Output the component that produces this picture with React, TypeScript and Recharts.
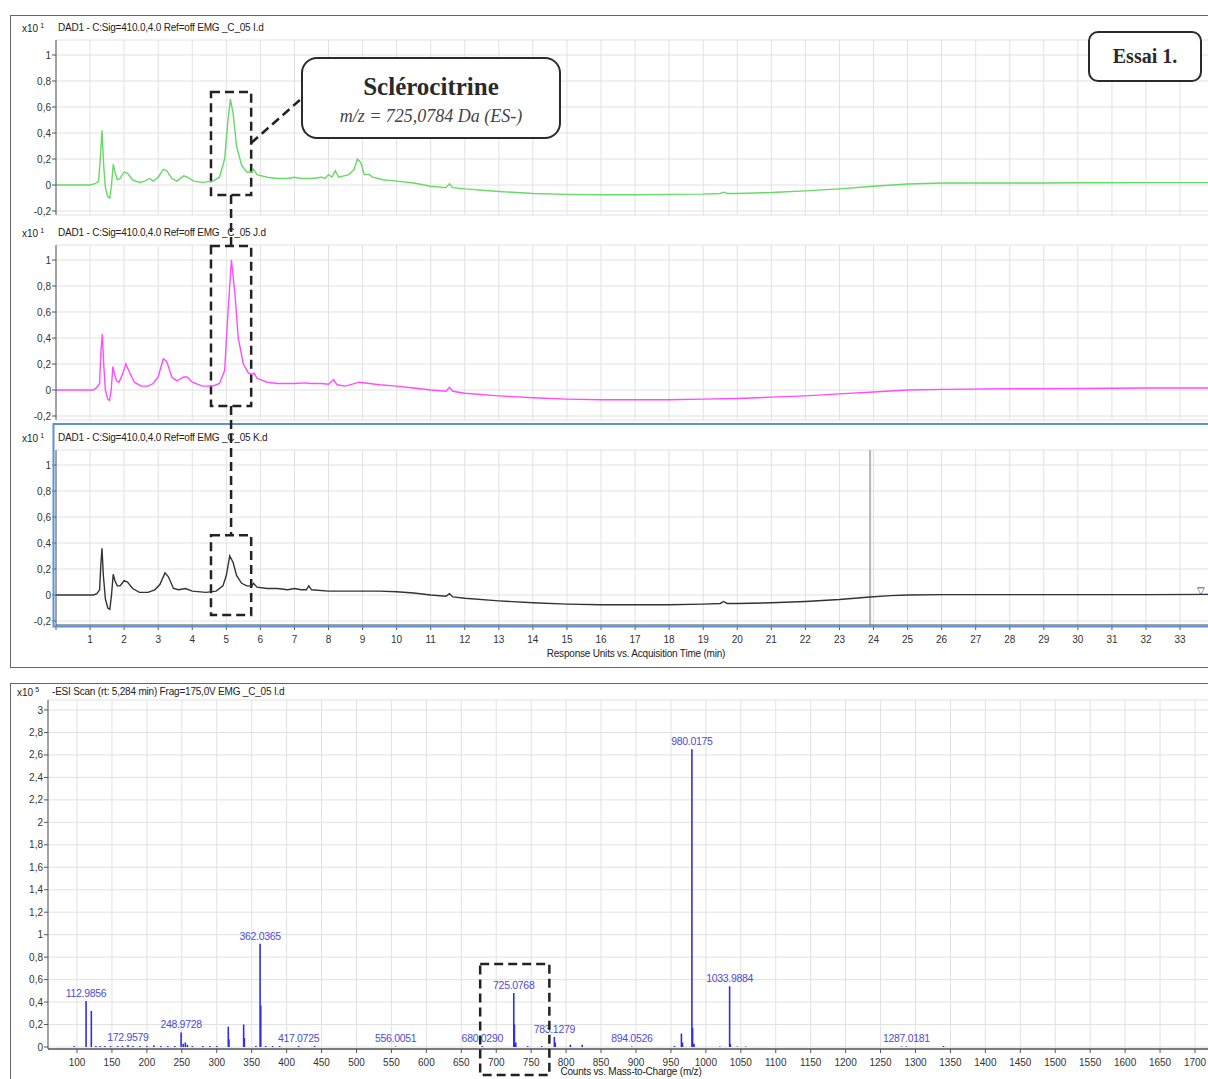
import React from 'react';
import { LineChart, Line, XAxis, YAxis, CartesianGrid, ReferenceArea, ReferenceLine } from 'recharts';

// ---------- DATA ----------
const timeTicks = [0, 1, 2, 3, 4, 5, 6, 7, 8, 9, 10, 11, 12, 13, 14, 15, 16, 17, 18, 19, 20, 21, 22, 23, 24, 25, 26, 27, 28, 29, 30, 31, 32, 33, 34];
const chromYTicks = [-0.2, 0, 0.2, 0.4, 0.6, 0.8, 1];
const msXTicks = [100, 150, 200, 250, 300, 350, 400, 450, 500, 550, 600, 650, 700, 750, 800, 850, 900, 950, 1000, 1050, 1100, 1150, 1200, 1250, 1300, 1350, 1400, 1450, 1500, 1550, 1600, 1650, 1700];
const msYTicks = [0, 0.2, 0.4, 0.6, 0.8, 1, 1.2, 1.4, 1.6, 1.8, 2, 2.2, 2.4, 2.6, 2.8, 3];

const headers = [
  'DAD1 - C:Sig=410.0,4.0  Ref=off EMG _C_05 I.d',
  'DAD1 - C:Sig=410.0,4.0  Ref=off EMG _C_05 J.d',
  'DAD1 - C:Sig=410.0,4.0  Ref=off EMG _C_05 K.d',
];
const msHeader = '-ESI Scan (rt: 5,284 min) Frag=175,0V EMG _C_05 I.d';

// chromatogram 1 (green) [time min, response x10^1]
const greenTrace: [number, number][] = [
  [0, 0], [0.5, 0], [1.0, 0], [1.15, 0.01], [1.25, 0.03], [1.3, 0.2], [1.35, 0.42], [1.4, 0.15], [1.45, -0.02],
  [1.52, -0.09], [1.58, -0.1], [1.63, 0.0], [1.68, 0.16], [1.73, 0.1], [1.8, 0.04], [1.88, 0.05], [2.0, 0.1],
  [2.1, 0.09], [2.25, 0.04], [2.45, 0.02], [2.6, 0.03], [2.75, 0.05], [2.85, 0.03], [3.0, 0.06], [3.15, 0.12],
  [3.25, 0.11], [3.4, 0.05], [3.55, 0.03], [3.75, 0.07], [3.85, 0.06], [4.05, 0.03], [4.3, 0.02], [4.6, 0.03],
  [4.8, 0.06], [4.95, 0.2], [5.05, 0.5], [5.12, 0.66], [5.2, 0.55], [5.3, 0.3], [5.45, 0.15], [5.6, 0.1],
  [5.75, 0.1], [5.8, 0.12], [5.9, 0.08], [6.2, 0.06], [6.5, 0.05], [6.8, 0.05], [7.0, 0.06], [7.2, 0.05],
  [7.5, 0.05], [7.8, 0.06], [7.9, 0.05], [8.0, 0.08], [8.1, 0.06], [8.2, 0.11], [8.3, 0.06], [8.6, 0.08],
  [8.75, 0.12], [8.85, 0.2], [8.95, 0.17], [9.05, 0.08], [9.2, 0.08], [9.3, 0.06], [9.6, 0.04], [10.0, 0.03],
  [10.5, 0.015], [11.0, -0.01], [11.45, -0.02], [11.55, 0.01], [11.65, -0.02], [12.0, -0.03], [13, -0.05],
  [14, -0.065], [15, -0.072], [16, -0.075], [17, -0.075], [18, -0.072], [19, -0.07], [19.5, -0.065],
  [19.6, -0.055], [19.7, -0.065], [20, -0.065], [21, -0.058], [22, -0.045], [23, -0.03], [24, -0.01],
  [25, 0.008], [26, 0.015], [27, 0.015], [28, 0.015], [29, 0.015], [30, 0.017], [31, 0.017], [32, 0.018],
  [33, 0.018], [34, 0.018],
];

// chromatogram 2 (magenta)
const magentaTrace: [number, number][] = [
  [0, 0], [0.8, 0], [1.1, 0], [1.2, 0.02], [1.28, 0.05], [1.32, 0.3], [1.36, 0.43], [1.4, 0.2], [1.45, 0.0],
  [1.52, -0.07], [1.57, -0.08], [1.62, 0.0], [1.67, 0.18], [1.72, 0.12], [1.78, 0.07], [1.85, 0.06], [1.95, 0.12],
  [2.05, 0.2], [2.15, 0.14], [2.3, 0.06], [2.5, 0.03], [2.7, 0.03], [2.85, 0.05], [3.0, 0.1], [3.15, 0.24],
  [3.25, 0.22], [3.4, 0.1], [3.55, 0.07], [3.75, 0.1], [3.85, 0.1], [4.0, 0.06], [4.3, 0.03], [4.6, 0.03],
  [4.8, 0.05], [4.95, 0.15], [5.05, 0.6], [5.15, 1.0], [5.25, 0.75], [5.35, 0.4], [5.5, 0.2], [5.65, 0.13],
  [5.75, 0.12], [5.82, 0.13], [5.9, 0.09], [6.2, 0.06], [6.5, 0.05], [7.0, 0.05], [7.3, 0.055], [7.5, 0.05],
  [7.8, 0.05], [8.0, 0.045], [8.15, 0.08], [8.25, 0.04], [8.5, 0.03], [8.9, 0.06], [9.2, 0.05], [9.5, 0.04],
  [10, 0.03], [10.5, 0.015], [11, 0.0], [11.45, -0.01], [11.55, 0.02], [11.65, -0.01], [12, -0.025],
  [13, -0.045], [14, -0.06], [15, -0.07], [16, -0.075], [17, -0.075], [18, -0.075], [19, -0.07], [20, -0.065],
  [21, -0.055], [22, -0.045], [23, -0.03], [24, -0.015], [25, 0.0], [26, 0.005], [28, 0.01], [30, 0.012],
  [32, 0.015], [34, 0.015],
];

// chromatogram 3 (dark grey)
const greyTrace: [number, number][] = [
  [0, 0], [1.1, 0], [1.2, 0.01], [1.28, 0.04], [1.32, 0.25], [1.35, 0.36], [1.39, 0.15], [1.45, -0.03],
  [1.52, -0.1], [1.58, -0.11], [1.63, 0.0], [1.68, 0.16], [1.73, 0.11], [1.8, 0.07], [1.88, 0.07], [2.0, 0.11],
  [2.1, 0.1], [2.25, 0.05], [2.45, 0.02], [2.7, 0.02], [2.9, 0.04], [3.05, 0.08], [3.2, 0.17], [3.3, 0.14],
  [3.45, 0.05], [3.6, 0.04], [3.8, 0.05], [4.0, 0.03], [4.4, 0.02], [4.7, 0.03], [4.9, 0.07], [5.0, 0.15],
  [5.1, 0.3], [5.2, 0.25], [5.3, 0.15], [5.45, 0.09], [5.6, 0.07], [5.75, 0.07], [5.8, 0.09], [5.9, 0.06],
  [6.2, 0.05], [6.5, 0.05], [6.8, 0.04], [7.0, 0.05], [7.2, 0.04], [7.35, 0.04], [7.42, 0.07], [7.5, 0.04],
  [8, 0.03], [8.5, 0.03], [9, 0.03], [9.5, 0.03], [10, 0.025], [10.5, 0.015], [11, 0.0], [11.45, -0.01],
  [11.55, 0.01], [11.65, -0.015], [12, -0.025], [13, -0.045], [14, -0.06], [15, -0.07], [16, -0.075],
  [17, -0.075], [18, -0.075], [19, -0.07], [19.5, -0.065], [19.6, -0.05], [19.7, -0.065], [20, -0.065],
  [21, -0.06], [22, -0.05], [23, -0.035], [23.9, -0.015], [24.5, -0.005], [25, 0.0], [26, 0.003], [28, 0.003],
  [30, 0.003], [32, 0.003], [34, 0.005],
];

// mass spectrum peaks (m/z, counts x10^5)
const peakMz = [96, 112.9856, 120.5, 127, 133, 140, 148, 158, 165, 172.9579, 180, 190, 200, 210, 220, 230, 240,
  248.9728, 252, 255, 258, 265, 280, 290, 300, 316.5, 317.5, 338.5, 339.5, 356, 362.0365, 363, 370, 380, 390,
  417.0725, 440, 556.0051, 680.029, 725.0768, 726, 728, 745, 765, 783.1279, 784.5, 806, 823, 894.0526, 955,
  965, 966.5, 980.0175, 981, 983, 1020, 1033.9884, 1035, 1045, 1057, 1280, 1287.0181, 1340];
const peakIntensity = [0.01, 0.41, 0.32, 0.01, 0.01, 0.01, 0.01, 0.01, 0.01, 0.015, 0.01, 0.01, 0.01, 0.015, 0.01,
  0.01, 0.01, 0.13, 0.03, 0.04, 0.02, 0.01, 0.01, 0.01, 0.01, 0.18, 0.07, 0.2, 0.08, 0.01, 0.92, 0.37, 0.01, 0.01,
  0.01, 0.01, 0.01, 0.005, 0.01, 0.48, 0.2, 0.04, 0.01, 0.01, 0.09, 0.04, 0.02, 0.02, 0.005, 0.01, 0.12, 0.04, 2.65,
  0.17, 0.03, 0.005, 0.54, 0.03, 0.005, 0.005, 0.005, 0.005, 0.01];
const labelledPeaks = ['112.9856', '172.9579', '248.9728', '362.0365', '417.0725', '556.0051', '680.0290',
  '725.0768', '783.1279', '894.0526', '980.0175', '1033.9884', '1287.0181'];

// ---------- LAYOUT CONSTANTS ----------
const X0 = 56;
const PX_PER_MIN = 34.0625;
const T_MAX = 34;
const PLOT_W = T_MAX * PX_PER_MIN;
const Y_PX = 130;
const Y_MIN = -30 / Y_PX;
const Y_MAX = 145 / Y_PX;
const PANEL_TOPS = [30, 235, 440];

const MS_X0 = 48;
const MS_PX = 0.69875;
const MZ_MIN = 100 - (77 - 48) / MS_PX;
const MZ_MAX = 1730;
const MS_Y_PX = 112.33;
const MS_YMIN = -2 / MS_Y_PX;
const MS_YMAX = 347 / MS_Y_PX;
const MS_TOP = 690;

const BOX_T1 = 4.55;
const BOX_T2 = 5.73;
const CONN_T = 5.14;
const boxes = [
  { y1: -0.077, y2: 0.715 },
  { y1: -0.123, y2: 1.108 },
  { y1: -0.154, y2: 0.46 },
];

const FONT = '"Liberation Sans", Arial, sans-serif';
const SERIF = '"Liberation Serif", "Times New Roman", serif';

const fmtComma = (v: number) => String(Math.round(v * 10) / 10).replace('.', ',');

const toData = (pairs: [number, number][]) => pairs.map(([t, v]) => ({ t, v }));

const stickData: any[] = [];
peakMz.forEach((mz, i) => {
  const label = labelledPeaks.find((l) => Math.abs(parseFloat(l) - mz) < 0.001) || null;
  stickData.push({ mz, v: 0 });
  stickData.push({ mz, v: peakIntensity[i], label });
  stickData.push({ mz, v: null });
});

const tickStyle = { fontSize: 10, fill: '#333', fontFamily: FONT };

function ChromPanel({ idx, data, color }: { idx: number; data: any[]; color: string }) {
  const top = PANEL_TOPS[idx];
  const showX = idx === 2;
  const height = showX ? 225 : 190;
  const box = boxes[idx];
  return (
    <div style={{ position: 'absolute', left: 0, top, width: X0 + PLOT_W, height }}>
      <LineChart width={X0 + PLOT_W} height={height} data={data} margin={{ top: 10, right: 0, bottom: showX ? 0 : 5, left: 16 }}>
        <CartesianGrid stroke="#e2e2e2" strokeWidth={1} />
        <XAxis
          type="number"
          dataKey="t"
          domain={[0, T_MAX]}
          ticks={timeTicks}
          hide={!showX}
          height={40}
          allowDataOverflow
          tickSize={5}
          tickMargin={6}
          tick={tickStyle}
          tickLine={{ stroke: '#555' }}
          axisLine={{ stroke: '#555' }}
          tickFormatter={(v: number) => (v === 0 || v === T_MAX ? '' : String(v))}
          interval={0}
        />
        <YAxis
          type="number"
          domain={[Y_MIN, Y_MAX]}
          ticks={chromYTicks}
          width={40}
          allowDataOverflow
          tickSize={4}
          tickMargin={1}
          tick={tickStyle}
          tickLine={{ stroke: '#555' }}
          axisLine={{ stroke: '#555' }}
          tickFormatter={fmtComma}
          interval={0}
        />
        {idx === 2 && <ReferenceLine x={23.9} stroke="#b5b5b5" strokeWidth={2} />}
        <Line type="linear" dataKey="v" stroke={color} strokeWidth={1.4} dot={false} isAnimationActive={false} />
        <ReferenceArea x1={BOX_T1} x2={BOX_T2} y1={box.y1} y2={box.y2} fill="none" fillOpacity={0} stroke="#222" strokeWidth={2.5} strokeDasharray="9 5" ifOverflow="visible" />
        {idx === 0 && (
          <ReferenceLine segment={[{ x: BOX_T2, y: 0.323 }, { x: 7.16, y: 0.654 }]} stroke="#222" strokeWidth={2.5} strokeDasharray="9 5" ifOverflow="visible" />
        )}
      </LineChart>
    </div>
  );
}

function Header({ top, left, exp, text, textLeft }: { top: number; left: number; exp: string; text: string; textLeft: number }) {
  return (
    <>
      <div style={{ position: 'absolute', left, top, fontSize: 10, fontFamily: FONT, color: '#222', whiteSpace: 'nowrap' }}>
        x10<sup style={{ fontSize: 7, marginLeft: 2 }}>{exp}</sup>
      </div>
      <div style={{ position: 'absolute', left: textLeft, top, fontSize: 10, fontFamily: FONT, color: '#222', whiteSpace: 'nowrap', letterSpacing: -0.2 }}>
        {text}
      </div>
    </>
  );
}

const renderMsLabel = (props: any) => {
  const { x, y, index } = props;
  const d = stickData[index];
  if (!d || !d.label || x == null || y == null) return null;
  return (
    <text key={'lbl' + index} x={x} y={y - 4} textAnchor="middle" fontSize={10.5} fontFamily={FONT} fill="#4b4bd8" letterSpacing={-0.3}>
      {d.label}
    </text>
  );
};

export default function App() {
  const chromX = (t: number) => X0 + t * PX_PER_MIN;
  const chromZero = (idx: number) => PANEL_TOPS[idx] + 10 + Y_MAX * Y_PX;
  const chromY = (idx: number, v: number) => chromZero(idx) - v * Y_PX;
  const msX = (mz: number) => MS_X0 + (mz - MZ_MIN) * MS_PX;
  const msY = (v: number) => MS_TOP + 10 + (MS_YMAX - v) * MS_Y_PX;
  const cx = chromX(CONN_T);

  return (
    <div style={{ position: 'fixed', left: 0, top: 0, width: 1208, height: 1079, overflow: 'hidden', background: '#fff' }}>
      {/* outer frames */}
      <div style={{ position: 'absolute', left: 10, top: 15, width: 1220, height: 651, border: '1px solid #666', background: '#fff' }} />
      <div style={{ position: 'absolute', left: 10, top: 683, width: 1220, height: 420, border: '1px solid #666', background: '#fff' }} />

      {headers.map((h, i) => (
        <Header key={i} top={PANEL_TOPS[i] - 8} left={22} exp="1" text={h} textLeft={58} />
      ))}

      <ChromPanel idx={0} data={toData(greenTrace)} color="#66d966" />
      <ChromPanel idx={1} data={toData(magentaTrace)} color="#ff4cff" />
      <ChromPanel idx={2} data={toData(greyTrace)} color="#333" />

      <div style={{ position: 'absolute', left: 0, width: 1272, top: 648, textAlign: 'center', fontSize: 10, fontFamily: FONT, color: '#222', letterSpacing: -0.2 }}>
        Response Units vs. Acquisition Time (min)
      </div>

      {/* mass spectrum */}
      <Header top={686} left={17} exp="5" text={msHeader} textLeft={52} />
      <div style={{ position: 'absolute', left: 0, top: MS_TOP }}>
        <LineChart
          width={MS_X0 + (MZ_MAX - MZ_MIN) * MS_PX}
          height={389}
          data={stickData}
          margin={{ top: 10, right: 0, bottom: 0, left: 18 }}
        >
          <CartesianGrid stroke="#e2e2e2" />
          <XAxis
            type="number"
            dataKey="mz"
            domain={[MZ_MIN, MZ_MAX]}
            ticks={msXTicks}
            height={30}
            interval={0}
            allowDataOverflow
            tickSize={4}
            tickMargin={6}
            tick={tickStyle}
            tickLine={{ stroke: '#555' }}
            axisLine={{ stroke: '#555', strokeWidth: 1.5 }}
          />
          <YAxis
            type="number"
            domain={[MS_YMIN, MS_YMAX]}
            ticks={msYTicks}
            width={30}
            interval={0}
            allowDataOverflow
            tickSize={4}
            tickMargin={1}
            tick={tickStyle}
            tickLine={{ stroke: '#555' }}
            axisLine={{ stroke: '#555' }}
            tickFormatter={fmtComma}
          />
          <Line
            type="linear"
            dataKey="v"
            stroke="#2f2fe6"
            strokeWidth={1.6}
            dot={false}
            connectNulls={false}
            isAnimationActive={false}
            label={renderMsLabel}
          />
        </LineChart>
      </div>
      <div style={{ position: 'absolute', left: 0, width: 1262, top: 1066, lineHeight: '12px', textAlign: 'center', fontSize: 10, fontFamily: FONT, color: '#222', letterSpacing: -0.2 }}>
        Counts vs. Mass-to-Charge (m/z)
      </div>

      {/* overlay decorations */}
      <svg width={1208} height={1079} style={{ position: 'absolute', left: 0, top: 0, pointerEvents: 'none' }}>
        <path d={`M 1212 ${PANEL_TOPS[2] - 16} L ${X0 - 2.5} ${PANEL_TOPS[2] - 16} L ${X0 - 2.5} 626.5 L 1212 626.5`} fill="none" stroke="#5b93d8" strokeWidth={2} />
        <line x1={cx} x2={cx} y1={chromY(0, boxes[0].y1)} y2={chromY(1, boxes[1].y2)} stroke="#222" strokeWidth={2.5} strokeDasharray="9 5" />
        <line x1={cx} x2={cx} y1={chromY(1, boxes[1].y1)} y2={chromY(2, boxes[2].y2)} stroke="#222" strokeWidth={2.5} strokeDasharray="9 5" />
        <rect x={msX(677)} y={msY(0.74)} width={msX(776) - msX(677)} height={1075 - msY(0.74)} fill="none" stroke="#222" strokeWidth={2.5} strokeDasharray="9 5" />
        <text x={1201} y={594} fontSize={10} textAnchor="middle" fontFamily={FONT} fill="#333">▽</text>
      </svg>

      {/* annotation box */}
      <div style={{ position: 'absolute', left: 301, top: 57, width: 256, height: 78, border: '2px solid #2a2a2a', borderRadius: 16, background: '#fff', textAlign: 'center', fontFamily: SERIF, color: '#2a2a2a' }}>
        <div style={{ fontSize: 25, fontWeight: 'bold', marginTop: 14, lineHeight: '28px' }}>Sclérocitrine</div>
        <div style={{ fontSize: 18, fontStyle: 'italic', color: '#444', lineHeight: '24px', marginTop: 3 }}>m/z = 725,0784 Da (ES-)</div>
      </div>

      {/* Essai 1 box */}
      <div style={{ position: 'absolute', left: 1088, top: 31, width: 110, height: 47, border: '2px solid #2a2a2a', borderRadius: 10, background: '#fff', textAlign: 'center', fontFamily: SERIF, color: '#2a2a2a', fontSize: 20, fontWeight: 'bold', lineHeight: '47px' }}>
        Essai 1.
      </div>
    </div>
  );
}
